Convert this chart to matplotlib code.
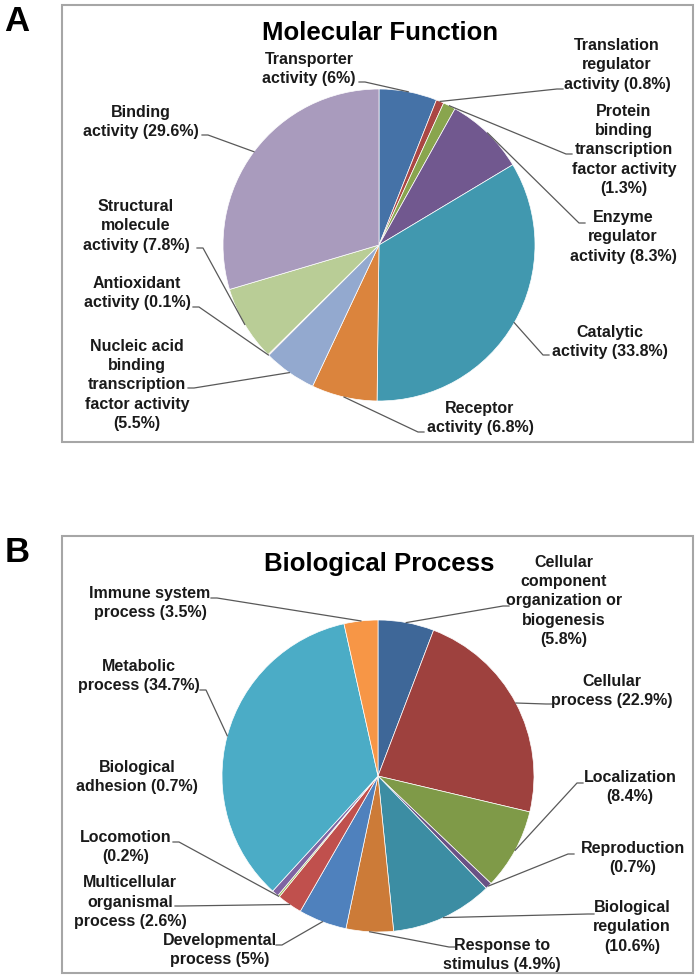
import numpy as np
import matplotlib
matplotlib.use("Agg")
import matplotlib.pyplot as plt
from matplotlib.patches import Rectangle

plt.rcParams['font.family'] = ['Liberation Sans', 'DejaVu Sans']

# Panel A: Molecular Function
mf_labels = ['Transporter\nactivity (6%)',
             'Translation\nregulator\nactivity (0.8%)',
             'Protein\nbinding\ntranscription\nfactor activity\n(1.3%)',
             'Enzyme\nregulator\nactivity (8.3%)',
             'Catalytic\nactivity (33.8%)',
             'Receptor\nactivity (6.8%)',
             'Nucleic acid\nbinding\ntranscription\nfactor activity\n(5.5%)',
             'Antioxidant\nactivity (0.1%)',
             'Structural\nmolecule\nactivity (7.8%)',
             'Binding\nactivity (29.6%)']
mf_values = [6, 0.8, 1.3, 8.3, 33.8, 6.8, 5.5, 0.1, 7.8, 29.6]
mf_colors = ['#4572A7', '#AA4643', '#89A54E', '#71588F', '#4198AF',
             '#DB843D', '#93A9CF', '#D19392', '#B9CD96', '#A99BBD']

# Panel B: Biological Process
bp_labels = ['Cellular\ncomponent\norganization or\nbiogenesis\n(5.8%)',
             'Cellular\nprocess (22.9%)',
             'Localization\n(8.4%)',
             'Reproduction\n(0.7%)',
             'Biological\nregulation\n(10.6%)',
             'Response to\nstimulus (4.9%)',
             'Developmental\nprocess (5%)',
             'Multicellular\norganismal\nprocess (2.6%)',
             'Locomotion\n(0.2%)',
             'Biological\nadhesion (0.7%)',
             'Metabolic\nprocess (34.7%)',
             'Immune system\nprocess (3.5%)']
bp_values = [5.8, 22.9, 8.4, 0.7, 10.6, 4.9, 5, 2.6, 0.2, 0.7, 34.7, 3.5]
bp_colors = ['#3E6798', '#9E413E', '#7F9A48', '#695185', '#3C8DA3', '#CC7B38',
             '#4F81BD', '#C0504D', '#9BBB59', '#8064A2', '#4BACC6', '#F79646']

# layout in pixels measured from the top-left corner
H = 980
mf_text_pos = [(309, 69), (617, 65), (624, 150), (623, 237), (610, 342),
               (480, 418), (137, 385), (137, 293), (136, 226), (141, 122)]
mf_anchor = [(359, 82, 1), (563, 89, -1), (572, 154, -1), (585, 223, -1),
             (549, 355, -1), (424, 432, -1), (188, 388, 1), (193, 307, 1),
             (197, 248, 1), (202, 135, 1)]
bp_text_pos = [(564, 601), (612, 691), (630, 787), (633, 858), (632, 927),
               (502, 955), (220, 950), (130, 902), (126, 847), (137, 777),
               (139, 676), (150, 603)]
bp_anchor = [(509, 606, -1), (552, 704, -1), (583, 783, -1), (574, 854, -1),
             (594, 914, -1), (455, 947, -1), (276, 945, 1), (175, 906, 1),
             (173, 842, 1), None, (200, 690, 1), (211, 598, 1)]

fig = plt.figure(figsize=(7, 9.8), dpi=100)
ax = fig.add_axes([0, 0, 1, 1])


def panel(values, colors, labels, text_pos, anchors, center, title, letter, box_top):
    cx, cy = center
    r = 156
    wedges, _ = ax.pie(values, colors=colors, startangle=90, counterclock=False,
                       center=(cx, H - cy), radius=r,
                       wedgeprops=dict(edgecolor='white', linewidth=0.5))
    ax.add_patch(Rectangle((62, H - box_top - 437), 631, 437, fill=False,
                           edgecolor='#A6A6A6', linewidth=1.5))
    ax.text(cx + 1, H - box_top - 28, title, ha='center', va='center',
            fontsize=18.5, fontweight='bold')
    ax.text(17, H - box_top - 17, letter, ha='center', va='center',
            fontsize=25, fontweight='bold')
    for w, lab, (tx, ty), anc in zip(wedges, labels, text_pos, anchors):
        ax.text(tx, H - ty, lab, ha='center', va='center', fontsize=11.5,
                fontweight='bold', linespacing=1.37, color='#1a1a1a')
        if anc is None:
            continue
        ang = np.deg2rad((w.theta1 + w.theta2) / 2)
        px, py = cx + r * np.cos(ang), (H - cy) + r * np.sin(ang)
        lx, ly, side = anc
        ax.plot([lx, lx + 6 * side, px], [H - ly, H - ly, py],
                color='#595959', linewidth=0.9)


panel(mf_values, mf_colors, mf_labels, mf_text_pos, mf_anchor,
      (379, 245), 'Molecular Function', 'A', 5)
panel(bp_values, bp_colors, bp_labels, bp_text_pos, bp_anchor,
      (378, 776), 'Biological Process', 'B', 536)

ax.set_xlim(0, 700)
ax.set_ylim(0, H)
ax.set_aspect('equal')
ax.axis('off')
fig.savefig('out.png', dpi=100)
